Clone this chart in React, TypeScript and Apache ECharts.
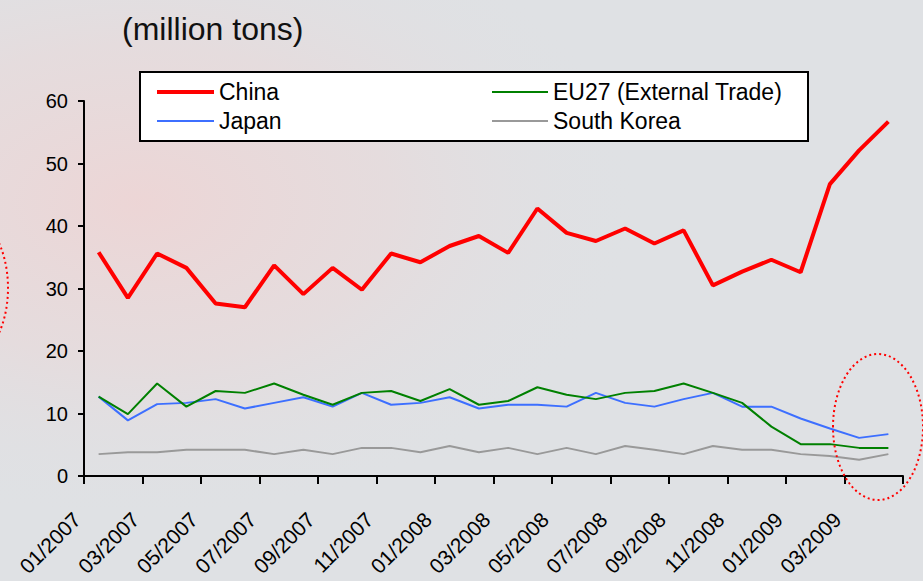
import React, { useEffect, useRef } from "react";
import * as echarts from "echarts";

const months = [
  "01/2007", "02/2007", "03/2007", "04/2007", "05/2007", "06/2007", "07/2007",
  "08/2007", "09/2007", "10/2007", "11/2007", "12/2007", "01/2008", "02/2008",
  "03/2008", "04/2008", "05/2008", "06/2008", "07/2008", "08/2008", "09/2008",
  "10/2008", "11/2008", "12/2008", "01/2009", "02/2009", "03/2009", "04/2009",
];

const china = [
  35.8, 28.5, 35.6, 33.3, 27.6, 27.0, 33.7, 29.1, 33.3, 29.8, 35.6, 34.2, 36.8, 38.4,
  35.7, 42.8, 38.9, 37.6, 39.6, 37.2, 39.3, 30.5, 32.7, 34.6, 32.6, 46.7, 52.1, 56.7,
];
const eu27 = [
  12.7, 9.9, 14.8, 11.1, 13.6, 13.3, 14.8, 13.0, 11.4, 13.3, 13.6, 12.0, 13.9, 11.4,
  12.0, 14.2, 13.0, 12.3, 13.3, 13.6, 14.8, 13.3, 11.7, 7.9, 5.1, 5.1, 4.5, 4.5,
];
const japan = [
  12.7, 8.9, 11.5, 11.7, 12.3, 10.8, 11.7, 12.6, 11.1, 13.3, 11.4, 11.7, 12.6, 10.8,
  11.4, 11.4, 11.1, 13.3, 11.7, 11.1, 12.3, 13.3, 11.1, 11.1, 9.2, 7.6, 6.1, 6.7,
];
const southKorea = [
  3.5, 3.8, 3.8, 4.2, 4.2, 4.2, 3.5, 4.2, 3.5, 4.5, 4.5, 3.8, 4.8, 3.8,
  4.5, 3.5, 4.5, 3.5, 4.8, 4.2, 3.5, 4.8, 4.2, 4.2, 3.5, 3.2, 2.6, 3.5,
];

const FONT = "Liberation Sans, Arial, sans-serif";

export default function App() {
  const ref = useRef<HTMLDivElement>(null);
  useEffect(() => {
    if (!ref.current) return;
    const chart = echarts.init(ref.current, null, { renderer: "svg" });
    const legendText = { fontSize: 23, fontFamily: FONT, color: "#000", lineHeight: 24 };
    const option: any = {
      animation: false,
      backgroundColor: "#dfe1e4",
      textStyle: { fontFamily: FONT },
      grid: {
        left: 84, right: 20, top: 101, bottom: 105,
        containLabel: false,
        outerBoundsMode: "none",
      },
      graphic: [
        {
          type: "rect",
          shape: { x: 0, y: 0, width: 923, height: 581 },
          style: {
            fill: {
              type: "radial",
              x: 0.15, y: 0.35, r: 0.55,
              colorStops: [
                { offset: 0, color: "rgba(238,212,212,0.9)" },
                { offset: 0.5, color: "rgba(235,215,215,0.5)" },
                { offset: 1, color: "rgba(223,225,228,0)" },
              ],
            },
          },
          silent: true,
          z: -10,
        },
        {
          type: "rect",
          shape: { x: 140, y: 72, width: 668, height: 69 },
          style: { fill: "#ffffff", stroke: "#000000", lineWidth: 2 },
          z: 5,
        },
        {
          type: "ellipse",
          shape: { cx: -37, cy: 288, rx: 45, ry: 75 },
          style: { fill: "none", stroke: "#ff0000", lineWidth: 2, lineDash: [2, 3] },
          z: 20,
        },
        {
          type: "ellipse",
          shape: { cx: 878, cy: 427, rx: 45, ry: 73 },
          style: { fill: "none", stroke: "#ff0000", lineWidth: 2, lineDash: [2, 3] },
          z: 20,
        },
        {
          type: "text",
          left: 122,
          top: 13,
          style: { text: "(million tons)", fontSize: 32, fontFamily: FONT, fill: "#111111" },
          z: 20,
        },
      ],
      legend: [
        {
          data: ["China", "Japan"],
          orient: "vertical",
          left: 155,
          top: 80,
          itemWidth: 57,
          itemHeight: 14,
          itemGap: 5,
          padding: 0,
          itemStyle: { opacity: 0 },
          lineStyle: { width: "inherit" },
          textStyle: legendText,
          z: 10,
        },
        {
          data: ["EU27 (External Trade)", "South Korea"],
          orient: "vertical",
          left: 491,
          top: 80,
          itemWidth: 56,
          itemHeight: 14,
          itemGap: 5,
          padding: 0,
          itemStyle: { opacity: 0 },
          lineStyle: { width: "inherit" },
          textStyle: legendText,
          z: 10,
        },
      ],
      xAxis: [
        {
          type: "category",
          data: months,
          boundaryGap: true,
          axisLine: { show: true, onZero: false, lineStyle: { color: "#000", width: 2 } },
          axisTick: { show: false },
          axisLabel: { show: false },
          splitLine: { show: false },
        },
        {
          type: "value",
          min: 0,
          max: 28,
          interval: 2,
          position: "bottom",
          axisLine: { show: false },
          axisTick: { show: true, length: 8, lineStyle: { color: "#000", width: 2 } },
          splitLine: { show: false },
          axisLabel: {
            rotate: 45,
            margin: 33,
            padding: [0, 10, 0, 0],
            fontSize: 21,
            color: "#000",
            fontFamily: FONT,
            formatter: (v: number) => (v < 27 ? months[v] : ""),
          },
        },
      ],
      yAxis: {
        type: "value",
        min: 0,
        max: 60,
        interval: 10,
        axisLine: { show: true, lineStyle: { color: "#000", width: 2 } },
        axisTick: { show: true, length: 6, lineStyle: { color: "#000", width: 2 } },
        splitLine: { show: false },
        axisLabel: { fontSize: 20, color: "#000", margin: 16, fontFamily: FONT },
      },
      series: [
        {
          name: "China",
          type: "line",
          data: china,
          symbol: "none",
          lineStyle: { color: "#ff0000", width: 4 },
          itemStyle: { color: "#ff0000" },
          z: 4,
        },
        {
          name: "Japan",
          type: "line",
          data: japan,
          symbol: "none",
          lineStyle: { color: "#3d6fff", width: 2 },
          itemStyle: { color: "#3d6fff" },
          z: 2,
        },
        {
          name: "EU27 (External Trade)",
          type: "line",
          data: eu27,
          symbol: "none",
          lineStyle: { color: "#008000", width: 2 },
          itemStyle: { color: "#008000" },
          z: 3,
        },
        {
          name: "South Korea",
          type: "line",
          data: southKorea,
          symbol: "none",
          lineStyle: { color: "#999999", width: 2 },
          itemStyle: { color: "#999999" },
          z: 1,
        },
      ],
    };
    chart.setOption(option);
    return () => chart.dispose();
  }, []);
  return <div ref={ref} style={{ width: 923, height: 581, position: "fixed", left: 0, top: 0 }} />;
}
